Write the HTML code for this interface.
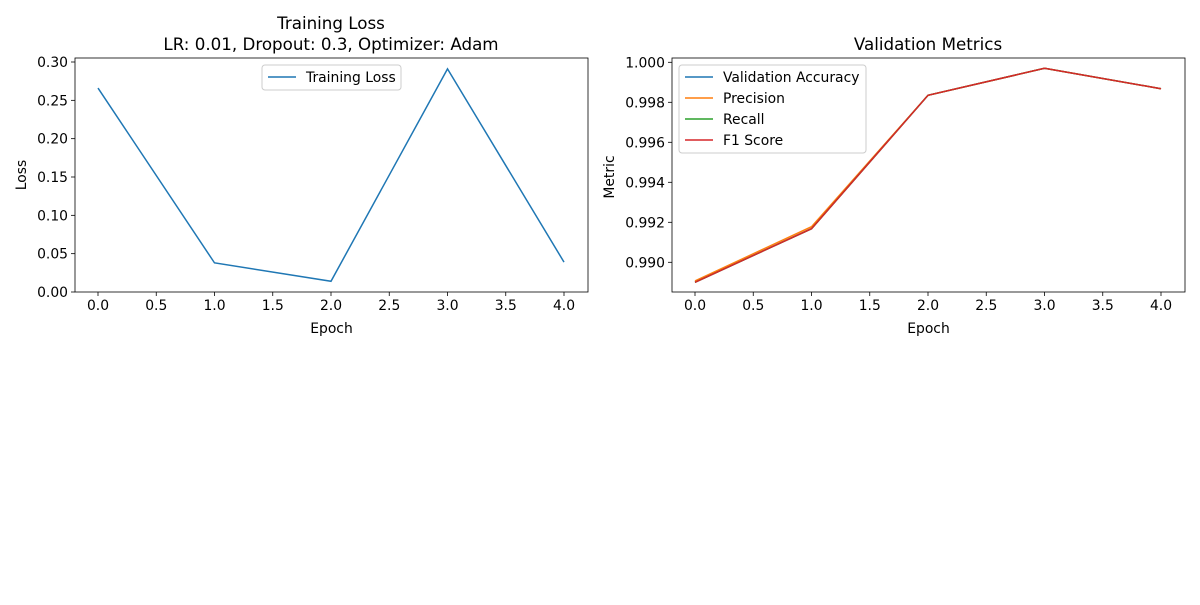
<!DOCTYPE html>
<html><head><meta charset="utf-8"><style>
body{margin:0;background:#fff;font-family:"Liberation Sans","DejaVu Sans",sans-serif}
svg text{font-family:"DejaVu Sans","Liberation Sans",sans-serif;fill:#000}
</style></head><body>
<svg id="c" width="1200" height="600" xmlns="http://www.w3.org/2000/svg"></svg>
<script>
const epochs=[0,1,2,3,4];
const lossValues=[0.266,0.038,0.014,0.291,0.039];
const accValues=[0.98900,0.99168,0.99835,0.99970,0.99868];
const precValues=[0.98907,0.99178,0.99835,0.99970,0.99868];
const recValues=[0.98900,0.99168,0.99835,0.99970,0.99868];
const f1Values=[0.98900,0.99168,0.99835,0.99970,0.99868];
const xTicks=[0,0.5,1,1.5,2,2.5,3,3.5,4];
const lossTicks=[0,0.05,0.1,0.15,0.2,0.25,0.3];
const metricTicks=[0.990,0.992,0.994,0.996,0.998,1.000];
const svg=document.getElementById('c');
const NS='http://www.w3.org/2000/svg';
const FS=13.9, TS=16.7;
function mk(t,a,txt){const e=document.createElementNS(NS,t);for(const k in a)e.setAttribute(k,a[k]);if(txt!==undefined)e.textContent=txt;svg.appendChild(e);return e;}
function panel(L,R,T,B,x0,x1,y0,y1,yTicks,yDec,name){
  const sx=v=>x0+(v-epochs[0])*(x1-x0)/(epochs[4]-epochs[0]);
  const sy=v=>y0+(v-yTicks[0])*(y1-y0)/(yTicks[yTicks.length-1]-yTicks[0]);
  let r=mk('rect',{x:L,y:T,width:R-L,height:B-T,fill:'none',stroke:'#000','stroke-width':0.8});
  
  
  xTicks.forEach(v=>{const x=sx(v);
    let l=mk('line',{x1:x,x2:x,y1:B,y2:B+4,stroke:'#000','stroke-width':0.8});
    
    
    let t=mk('text',{x:x,y:B+18,'font-size':FS,'text-anchor':'middle'},v.toFixed(1));
    
    });
  yTicks.forEach(v=>{const y=sy(v);
    let l=mk('line',{x1:L-4,x2:L,y1:y,y2:y,stroke:'#000','stroke-width':0.8});
    
    
    let t=mk('text',{x:L-7,y:y+5,'font-size':FS,'text-anchor':'end'},v.toFixed(yDec));
    
    });
  let xl=mk('text',{x:(L+R)/2,y:B+41,'font-size':FS,'text-anchor':'middle'},'Epoch');
  
  
  return {sx,sy};
}
function line(p,vals,color,name){
  const d=vals.map((v,i)=>(i?'L':'M')+p.sx(epochs[i])+','+p.sy(v)).join(' ');
  let e=mk('path',{d:d,fill:'none',stroke:color,'stroke-width':1.5});
  
  
}
const p1=panel(75,588,58,292,98,564,292,62,lossTicks,2,'loss');
line(p1,lossValues,'#1f77b4','training-loss-line');
let t1=mk('text',{x:331,y:29,'font-size':TS,'text-anchor':'middle'},'Training Loss');

let t2=mk('text',{x:331,y:50,'font-size':TS,'text-anchor':'middle'},'LR: 0.01, Dropout: 0.3, Optimizer: Adam');

let yl1=mk('text',{x:0,y:0,'font-size':FS,'text-anchor':'middle',transform:'translate(26,175) rotate(-90)'},'Loss');

let lg1=mk('rect',{x:262,y:65,width:139,height:25,fill:'#fff',stroke:'#ccc',rx:3});

let le=mk('line',{x1:268,x2:296,y1:77,y2:77,stroke:'#1f77b4','stroke-width':1.5});

let lt=mk('text',{x:306,y:82,'font-size':FS},'Training Loss');

const p2=panel(672,1185,58,292,695,1161,262.3,62.3,metricTicks,3,'metrics');
line(p2,accValues,'#1f77b4','accuracy-line');
line(p2,precValues,'#ff7f0e','precision-line');
line(p2,recValues,'#2ca02c','recall-line');
line(p2,f1Values,'#d62728','f1-line');
let t3=mk('text',{x:928,y:50,'font-size':TS,'text-anchor':'middle'},'Validation Metrics');

let yl2=mk('text',{x:0,y:0,'font-size':FS,'text-anchor':'middle',transform:'translate(614,177) rotate(-90)'},'Metric');

let lg2=mk('rect',{x:679,y:65,width:187,height:88,fill:'#fff',stroke:'#ccc',rx:3});

[['Validation Accuracy','#1f77b4'],['Precision','#ff7f0e'],['Recall','#2ca02c'],['F1 Score','#d62728']].forEach((s,i)=>{
  const y=77+i*21;
  let l=mk('line',{x1:685,x2:713,y1:y,y2:y,stroke:s[1],'stroke-width':1.5});
  
  let t=mk('text',{x:723,y:y+5,'font-size':FS},s[0]);
  
});
</script>
</body></html>
